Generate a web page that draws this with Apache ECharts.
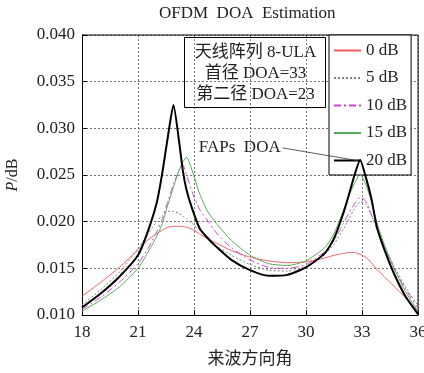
<!DOCTYPE html>
<html><head><meta charset="utf-8">
<script src="https://cdn.jsdelivr.net/npm/echarts@6/dist/echarts.min.js"></script>
<style>html,body{margin:0;padding:0;background:#fff}#c{width:424px;height:373px}</style>
</head><body><div id="c"></div>
<script>
const angles = [18, 19, 20, 21, 21.5, 22, 22.3, 22.6, 22.9, 23.2, 23.4, 23.6, 23.9, 24.3, 24.7, 25.2, 26, 27, 28, 29, 30, 31, 31.5, 32, 32.3, 32.6, 32.9, 33.2, 33.5, 33.8, 34.2, 34.7, 35.3, 36];
const snr0  = [0.0120,0.0135,0.0151,0.0170,0.0180,0.0187,0.0191,0.0194,0.0195,0.0195,0.0195,0.0194,0.0192,0.0187,0.0182,0.0177,0.0169,0.0162,0.0158,0.0156,0.0157,0.0161,0.0164,0.0166,0.0167,0.0167,0.0165,0.0162,0.0156,0.0149,0.0141,0.0131,0.0119,0.0104];
const snr5  = [0.0111,0.0127,0.0146,0.0171,0.0186,0.0200,0.0207,0.0211,0.0211,0.0209,0.0206,0.0203,0.0198,0.0191,0.0184,0.0174,0.0164,0.0154,0.0148,0.0147,0.0152,0.0165,0.0176,0.0192,0.0203,0.0214,0.0221,0.0219,0.0207,0.0193,0.0174,0.0153,0.0131,0.0110];
const snr10 = [0.0106,0.0119,0.0135,0.0155,0.0170,0.0189,0.0203,0.0222,0.0240,0.0255,0.0261,0.0250,0.0232,0.0213,0.0202,0.0188,0.0172,0.0159,0.0151,0.0150,0.0154,0.0168,0.0180,0.0198,0.0209,0.0219,0.0226,0.0222,0.0208,0.0192,0.0172,0.0150,0.0129,0.0107];
const snr15 = [0.0104,0.0116,0.0130,0.0150,0.0166,0.0184,0.0198,0.0218,0.0237,0.0255,0.0264,0.0269,0.0255,0.0230,0.0212,0.0198,0.0180,0.0164,0.0155,0.0153,0.0158,0.0172,0.0187,0.0212,0.0228,0.0241,0.0251,0.0240,0.0222,0.0199,0.0175,0.0151,0.0126,0.0104];
const snr20 = [0.0108,0.0123,0.0141,0.0164,0.0188,0.0220,0.0252,0.0291,0.0325,0.0286,0.0255,0.0234,0.0214,0.0193,0.0183,0.0173,0.0159,0.0148,0.0142,0.0143,0.0151,0.0166,0.0182,0.0209,0.0229,0.0250,0.0266,0.0248,0.0225,0.0194,0.0170,0.0145,0.0121,0.0101];
const seriesNames = ['0 dB','5 dB','10 dB','15 dB','20 dB'];
const xTicks = [18,21,24,27,30,33,36];
const infoLines = ['天线阵列 8-ULA','首径 DOA=33','第二径 DOA=23'];

const serif = '"Liberation Serif","DejaVu Serif","Noto Sans CJK SC",serif';
const pair = arr => angles.map((a,i)=>[a,arr[i]]);
const styles = [
  {color:'#f06060', width:1, type:'solid'},
  {color:'#808080', width:1, type:[2,2]},
  {color:'#cc44cc', width:1, type:[7,3,2,3]},
  {color:'#55aa55', width:1, type:'solid'},
  {color:'#000000', width:2, type:'solid'}
];
const datasets = [snr0,snr5,snr10,snr15,snr20];
const series = datasets.map((d,i)=>({
  name: seriesNames[i], type:'line', data: pair(d), symbol:'none', smooth:0.2,
  lineStyle:{color:styles[i].color,width:styles[i].width,type:styles[i].type},
  itemStyle:{color:styles[i].color}, z: 2+i
}));
series[4].markLine = {
  silent:true, symbol:['none','none'],
  lineStyle:{color:'#333',width:0.8,type:'solid'},
  label:{show:true, position:'start', formatter:'FAPs  DOA', fontFamily:serif, fontSize:17, color:'#222', distance:2},
  data:[[{coord:[28.75,0.0279]},{coord:[32.88,0.0265]}]]
};

const chart = echarts.init(document.getElementById('c'));
chart.setOption({
  animation:false,
  title:{text:'OFDM  DOA  Estimation', left:159, top:5, padding:0,
    textStyle:{fontFamily:serif, fontSize:17, fontWeight:'normal', color:'#222'}},
  grid:{left:82, right:6, top:35, bottom:58, show:false, outerBoundsMode:'none', containLabel:false},
  legend:{
    data:seriesNames, orient:'vertical', left:329, top:35,
    backgroundColor:'#fff', borderColor:'#000', borderWidth:1,
    padding:[7,4,6,4], itemWidth:27, itemHeight:10, itemGap:10.5,
    itemStyle:{opacity:0, borderWidth:0},
    textStyle:{fontFamily:serif, fontSize:17, color:'#222'}
  },
  xAxis:{type:'value', min:18, max:36, interval:3,
    name:'来波方向角', nameLocation:'middle', nameGap:36,
    nameTextStyle:{fontFamily:serif, fontSize:17, color:'#222'},
    axisLine:{show:true, onZero:false, lineStyle:{color:'#000',width:1}},
    axisTick:{show:true, inside:true, length:5, lineStyle:{color:'#000'}},
    axisLabel:{fontFamily:serif, fontSize:17, color:'#222', margin:9},
    splitLine:{show:true, lineStyle:{color:'#555', type:[2,2], width:0.8}}
  },
  yAxis:{type:'value', min:0.010, max:0.040, interval:0.005,
    name:'{i|P}/dB', nameLocation:'middle', nameGap:61, nameRotate:90,
    nameTextStyle:{fontFamily:serif, fontSize:16, color:'#222', rich:{i:{fontStyle:'italic',fontFamily:serif,fontSize:16,color:'#222'}}},
    axisLine:{show:true, lineStyle:{color:'#000',width:1}},
    axisTick:{show:true, inside:true, length:5, lineStyle:{color:'#000'}},
    axisLabel:{fontFamily:serif, fontSize:17, color:'#222', margin:7, formatter:v=>v.toFixed(3)},
    splitLine:{show:true, lineStyle:{color:'#555', type:[2,2], width:0.8}}
  },
  graphic:[
    {type:'line', shape:{x1:82,y1:35,x2:418,y2:35}, style:{stroke:'#000',lineWidth:1}, z:1},
    {type:'line', shape:{x1:418,y1:35,x2:418,y2:315}, style:{stroke:'#000',lineWidth:1}, z:1},
    {type:'group', left:184, top:37, z:20, children:[
      {type:'rect', shape:{x:0,y:0,width:141,height:70}, style:{fill:'#fff',stroke:'#000',lineWidth:1}},
      {type:'text', x:71, y:5, style:{text:infoLines.join('\n'), fontFamily:serif, fontSize:17, lineHeight:21, fill:'#222', align:'center'}}
    ]}
  ],
  series: series
});
</script></body></html>
